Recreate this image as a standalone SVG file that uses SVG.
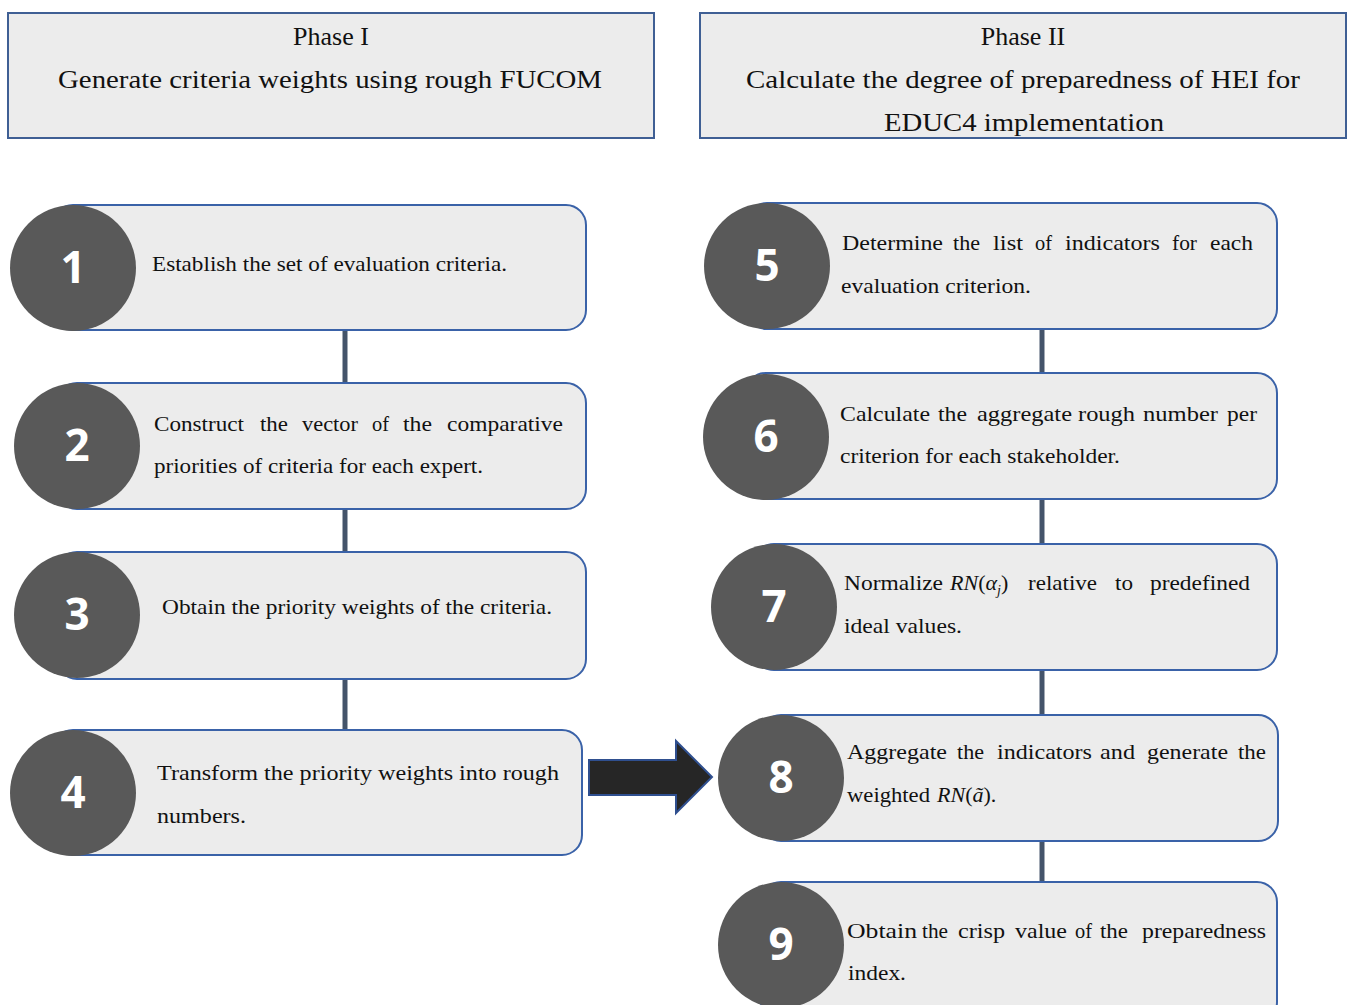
<svg xmlns="http://www.w3.org/2000/svg" width="1349" height="1005" viewBox="0 0 1349 1005">
<defs>
<style>
.hdr{fill:#ececec;stroke:#3f5f94;stroke-width:2}
.box{fill:#ececec;stroke:#3a62a8;stroke-width:2}
.circ{fill:#595959}
.num{font-family:"Open Sans","DejaVu Sans",sans-serif;font-weight:bold;font-size:44px;fill:#ffffff;text-anchor:middle}
.ht{font-family:"Liberation Serif",serif;font-size:26px;fill:#111}
.bt{font-family:"Liberation Serif",serif;font-size:22px;fill:#111}
.it{font-style:italic}
.conn{stroke:#44546a;stroke-width:5;fill:none}
</style>
</defs>
<rect width="1349" height="1005" fill="#ffffff"/>

<g id="phase1">
<rect class="hdr" x="8" y="13" width="646" height="125"/>
<text class="ht" x="331" y="45" text-anchor="middle">Phase I</text>
<text class="ht" x="58" y="88" textLength="544" lengthAdjust="spacingAndGlyphs">Generate criteria weights using rough FUCOM</text>
</g>
<g id="phase2">
<rect class="hdr" x="700" y="13" width="646" height="125"/>
<text class="ht" x="1023" y="45" text-anchor="middle">Phase II</text>
<text class="ht" x="746" y="88" textLength="554" lengthAdjust="spacingAndGlyphs">Calculate the degree of preparedness of HEI for</text>
<text class="ht" x="884" y="131" textLength="280" lengthAdjust="spacingAndGlyphs">EDUC4 implementation</text>
</g>

<g id="connectors">
<line class="conn" x1="345" y1="330" x2="345" y2="384"/>
<line class="conn" x1="345" y1="509" x2="345" y2="553"/>
<line class="conn" x1="345" y1="679" x2="345" y2="731"/>
<line class="conn" x1="1042" y1="329" x2="1042" y2="374"/>
<line class="conn" x1="1042" y1="499" x2="1042" y2="545"/>
<line class="conn" x1="1042" y1="670" x2="1042" y2="716"/>
<line class="conn" x1="1042" y1="841" x2="1042" y2="883"/>
<path d="M589,760 L676,760 L676,741 L712,777 L676,813 L676,795 L589,795 Z" fill="#262626" stroke="#2f4f8f" stroke-width="2"/>
</g>

<g id="step1">
<rect class="box" x="53" y="205" width="533" height="125" rx="20"/>
<circle class="circ" cx="73" cy="268" r="63"/>
<text class="num" x="73" y="283">1</text>
<text class="bt" x="152" y="271" textLength="355" lengthAdjust="spacingAndGlyphs">Establish the set of evaluation criteria.</text>
</g>
<g id="step2">
<rect class="box" x="57" y="383" width="529" height="126" rx="20"/>
<circle class="circ" cx="77" cy="446" r="63"/>
<text class="num" x="77" y="461">2</text>
<text class="bt" y="431"><tspan x="154" textLength="90" lengthAdjust="spacingAndGlyphs">Construct</tspan><tspan x="260" textLength="28" lengthAdjust="spacingAndGlyphs">the</tspan><tspan x="302" textLength="56" lengthAdjust="spacingAndGlyphs">vector</tspan><tspan x="372" textLength="17" lengthAdjust="spacingAndGlyphs">of</tspan><tspan x="403" textLength="29" lengthAdjust="spacingAndGlyphs">the</tspan><tspan x="447" textLength="116" lengthAdjust="spacingAndGlyphs">comparative</tspan></text>
<text class="bt" x="154" y="473" textLength="329" lengthAdjust="spacingAndGlyphs">priorities of criteria for each expert.</text>
</g>
<g id="step3">
<rect class="box" x="57" y="552" width="529" height="127" rx="20"/>
<circle class="circ" cx="77" cy="615" r="63"/>
<text class="num" x="77" y="630">3</text>
<text class="bt" x="162" y="614" textLength="390" lengthAdjust="spacingAndGlyphs">Obtain the priority weights of the criteria.</text>
</g>
<g id="step4">
<rect class="box" x="53" y="730" width="529" height="125" rx="20"/>
<circle class="circ" cx="73" cy="793" r="63"/>
<text class="num" x="73" y="808">4</text>
<text class="bt" x="157" y="780" textLength="402" lengthAdjust="spacingAndGlyphs">Transform the priority weights into rough</text>
<text class="bt" x="157" y="823" textLength="89" lengthAdjust="spacingAndGlyphs">numbers.</text>
</g>

<g id="step5">
<rect class="box" x="747" y="203" width="530" height="126" rx="20"/>
<circle class="circ" cx="767" cy="266" r="63"/>
<text class="num" x="767" y="281">5</text>
<text class="bt" y="250"><tspan x="842" textLength="101" lengthAdjust="spacingAndGlyphs">Determine</tspan><tspan x="953" textLength="27" lengthAdjust="spacingAndGlyphs">the</tspan><tspan x="993" textLength="30" lengthAdjust="spacingAndGlyphs">list</tspan><tspan x="1035" textLength="17" lengthAdjust="spacingAndGlyphs">of</tspan><tspan x="1065" textLength="95" lengthAdjust="spacingAndGlyphs">indicators</tspan><tspan x="1172" textLength="25" lengthAdjust="spacingAndGlyphs">for</tspan><tspan x="1210" textLength="43" lengthAdjust="spacingAndGlyphs">each</tspan></text>
<text class="bt" x="841" y="293" textLength="190" lengthAdjust="spacingAndGlyphs">evaluation criterion.</text>
</g>
<g id="step6">
<rect class="box" x="746" y="373" width="531" height="126" rx="20"/>
<circle class="circ" cx="766" cy="437" r="63"/>
<text class="num" x="766" y="452">6</text>
<text class="bt" y="421"><tspan x="840" textLength="90" lengthAdjust="spacingAndGlyphs">Calculate</tspan><tspan x="938" textLength="29" lengthAdjust="spacingAndGlyphs">the</tspan><tspan x="977" textLength="95" lengthAdjust="spacingAndGlyphs">aggregate</tspan><tspan x="1078" textLength="57" lengthAdjust="spacingAndGlyphs">rough</tspan><tspan x="1143" textLength="75" lengthAdjust="spacingAndGlyphs">number</tspan><tspan x="1227" textLength="30" lengthAdjust="spacingAndGlyphs">per</tspan></text>
<text class="bt" x="840" y="463" textLength="280" lengthAdjust="spacingAndGlyphs">criterion for each stakeholder.</text>
</g>
<g id="step7">
<rect class="box" x="754" y="544" width="523" height="126" rx="20"/>
<circle class="circ" cx="774" cy="607" r="63"/>
<text class="num" x="774" y="622">7</text>
<text class="bt" y="590"><tspan x="844" textLength="99" lengthAdjust="spacingAndGlyphs">Normalize</tspan><tspan x="950" class="it">RN</tspan><tspan>(</tspan><tspan class="it">α</tspan><tspan class="it" font-size="14" dy="5">j</tspan><tspan dy="-5">)</tspan><tspan x="1028" textLength="69" lengthAdjust="spacingAndGlyphs">relative</tspan><tspan x="1115" textLength="18" lengthAdjust="spacingAndGlyphs">to</tspan><tspan x="1150" textLength="100" lengthAdjust="spacingAndGlyphs">predefined</tspan></text>
<text class="bt" x="844" y="633" textLength="118" lengthAdjust="spacingAndGlyphs">ideal values.</text>
</g>
<g id="step8">
<rect class="box" x="761" y="715" width="517" height="126" rx="20"/>
<circle class="circ" cx="781" cy="778" r="63"/>
<text class="num" x="781" y="793">8</text>
<text class="bt" y="759"><tspan x="847" textLength="100" lengthAdjust="spacingAndGlyphs">Aggregate</tspan><tspan x="957" textLength="27" lengthAdjust="spacingAndGlyphs">the</tspan><tspan x="997" textLength="95" lengthAdjust="spacingAndGlyphs">indicators</tspan><tspan x="1100" textLength="35" lengthAdjust="spacingAndGlyphs">and</tspan><tspan x="1147" textLength="81" lengthAdjust="spacingAndGlyphs">generate</tspan><tspan x="1238" textLength="28" lengthAdjust="spacingAndGlyphs">the</tspan></text>
<text class="bt" y="802"><tspan x="847" textLength="83" lengthAdjust="spacingAndGlyphs">weighted</tspan><tspan x="937" class="it">RN</tspan><tspan>(</tspan><tspan class="it">ã</tspan><tspan>).</tspan></text>
</g>
<g id="step9">
<rect class="box" x="761" y="882" width="516" height="140" rx="20"/>
<circle class="circ" cx="781" cy="945" r="63"/>
<text class="num" x="781" y="960">9</text>
<text class="bt" y="938"><tspan x="847" textLength="70" lengthAdjust="spacingAndGlyphs">Obtain</tspan><tspan x="922" textLength="26" lengthAdjust="spacingAndGlyphs">the</tspan><tspan x="958" textLength="47" lengthAdjust="spacingAndGlyphs">crisp</tspan><tspan x="1015" textLength="52" lengthAdjust="spacingAndGlyphs">value</tspan><tspan x="1075" textLength="17" lengthAdjust="spacingAndGlyphs">of</tspan><tspan x="1100" textLength="28" lengthAdjust="spacingAndGlyphs">the</tspan><tspan x="1142" textLength="124" lengthAdjust="spacingAndGlyphs">preparedness</tspan></text>
<text class="bt" x="848" y="980" textLength="58" lengthAdjust="spacingAndGlyphs">index.</text>
</g>
</svg>
